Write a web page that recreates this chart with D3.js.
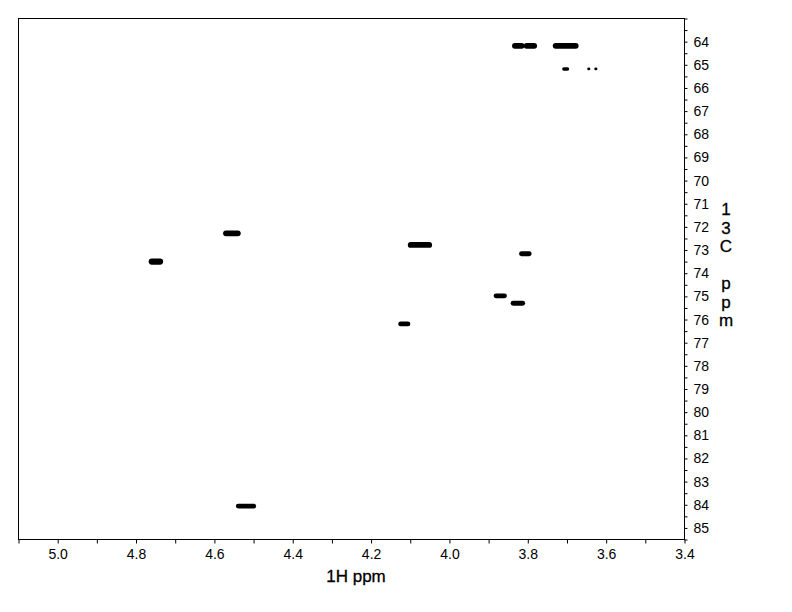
<!DOCTYPE html>
<html>
<head>
<meta charset="utf-8">
<script src="https://cdn.jsdelivr.net/npm/d3@7/dist/d3.min.js"></script>
<style>
  html, body { margin: 0; padding: 0; background: #fff; }
  svg { display: block; }
  text { font-family: "Liberation Sans", Arial, sans-serif; fill: #000; }
</style>
</head>
<body>
<svg id="chart" width="792" height="612"></svg>
<script>
// ---- Data ----
const xDomain = [5.1, 3.4];          // 1H ppm (reversed)
const yDomain = [63, 85.5];          // 13C ppm (top to bottom)
const xMajorTicks = [5.0, 4.8, 4.6, 4.4, 4.2, 4.0, 3.8, 3.6, 3.4];
const xTickLabels = ["5.0", "4.8", "4.6", "4.4", "4.2", "4.0", "3.8", "3.6", "3.4"];
const yMajorTicks = d3.range(64, 86, 1);
const xLabel = "1H ppm";
const yLabelChars = ["1", "3", "C", "", "p", "p", "m"];

// cross peaks: 1H centre, 13C centre, 1H extent (ppm), 13C extent (ppm)
const peakH  = [3.823, 3.792, 3.702, 3.702, 3.643, 3.625, 4.554, 4.748, 4.074, 3.805, 3.869, 3.824, 4.114, 4.518];
const peakC  = [64.20, 64.20, 64.20, 65.20, 65.20, 65.20, 72.30, 73.52, 72.80, 73.18, 75.00, 75.32, 76.21, 84.08];
const peakDH = [0.032, 0.034, 0.066, 0.018, 0.008, 0.008, 0.045, 0.037, 0.062, 0.032, 0.034, 0.037, 0.031, 0.052];
const peakDC = [0.25, 0.25, 0.25, 0.15, 0.12, 0.12, 0.25, 0.27, 0.25, 0.21, 0.21, 0.21, 0.21, 0.21];

// ---- Layout ----
const mLeft = 18, mRight = 684, mTop = 18, mBottom = 539;
const svg = d3.select("#chart");

const x = d3.scaleLinear().domain(xDomain).range([mLeft, mRight]);
const y = d3.scaleLinear().domain(yDomain).range([mTop, mBottom]);

// frame
svg.append("rect")
  .attr("x", mLeft + 0.5).attr("y", mTop + 0.5)
  .attr("width", mRight - mLeft).attr("height", mBottom - mTop)
  .attr("fill", "none").attr("stroke", "#000").attr("stroke-width", 1);

// x axis (bottom)
const xAxis = d3.axisBottom(x)
  .tickValues(d3.range(0, 18).map(i => +(5.1 - i * 0.1).toFixed(1)))
  .tickSize(4)
  .tickFormat(d => {
    const i = xMajorTicks.findIndex(v => Math.abs(v - d) < 1e-6);
    return i >= 0 ? xTickLabels[i] : "";
  });
const gx = svg.append("g").attr("transform", `translate(0.5,${mBottom + 0.5})`).call(xAxis);
gx.select(".domain").remove();
gx.selectAll("line").attr("stroke", "#000");
gx.selectAll("text").attr("font-size", 14).attr("dy", "0.9em").attr("y", 7)
  .style("font-family", "'Liberation Sans', Arial, sans-serif");

// y axis (right)
const yAxis = d3.axisRight(y)
  .tickValues(d3.range(63, 85.51, 0.5))
  .tickSize(3)
  .tickFormat(d => Number.isInteger(d) && yMajorTicks.includes(d) ? String(d) : "");
const gy = svg.append("g").attr("transform", `translate(${mRight + 0.5},0.5)`).call(yAxis);
gy.select(".domain").remove();
gy.selectAll("line").attr("stroke", "#000");
gy.selectAll("text").attr("font-size", 14).attr("x", 9)
  .style("font-family", "'Liberation Sans', Arial, sans-serif");

// axis titles
svg.append("text")
  .attr("x", 356).attr("y", 582)
  .attr("text-anchor", "middle")
  .attr("font-size", 17)
  .attr("stroke", "#000").attr("stroke-width", 0.3)
  .text(xLabel);

const yl = svg.append("text")
  .attr("x", 726).attr("y", 215)
  .attr("text-anchor", "middle")
  .attr("font-size", 17)
  .attr("stroke", "#000").attr("stroke-width", 0.3);
yLabelChars.forEach((c, i) => {
  yl.append("tspan").attr("x", 726).attr("y", 215 + i * 18.5).text(c === "" ? "\u00a0" : c);
});

// peaks
const peaks = peakH.map((h, i) => ({h, c: peakC[i], dh: peakDH[i], dc: peakDC[i]}));
svg.append("g").selectAll("rect").data(peaks).join("rect")
  .attr("x", d => x(d.h + d.dh / 2))
  .attr("y", d => y(d.c - d.dc / 2))
  .attr("width", d => x(d.h - d.dh / 2) - x(d.h + d.dh / 2))
  .attr("height", d => y(d.c + d.dc / 2) - y(d.c - d.dc / 2))
  .attr("rx", d => (y(d.c + d.dc / 2) - y(d.c - d.dc / 2)) / 2)
  .attr("fill", "#000");
</script>
</body>
</html>
